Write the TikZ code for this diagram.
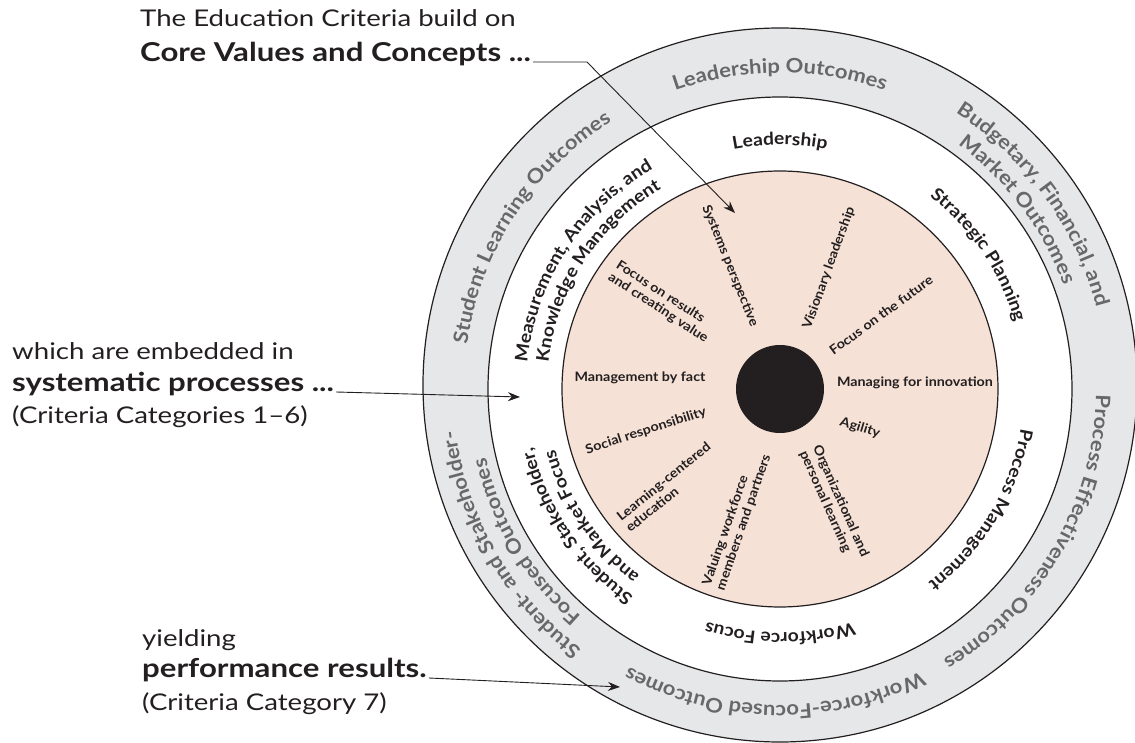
\documentclass[tikz,border=0pt]{standalone}
\usepackage{fontspec}
\setmainfont[FakeStretch=1.1]{Lato}
\newfontfamily\sidefont[FakeStretch=1.2]{Lato}
\usetikzlibrary{decorations.text,arrows.meta}
\definecolor{bandgray}{HTML}{E6E7E8}
\definecolor{corepink}{HTML}{F6E1D6}
\definecolor{labelgray}{HTML}{676869}
\definecolor{ink}{HTML}{231F20}
\newcommand\outerfmt{\fontsize{20}{20}\selectfont\bfseries\color{labelgray}}
\newcommand\midfmt{\fontsize{17.5}{17.5}\selectfont\bfseries\color{ink}}
\newcommand\arclabel[3]{%
  \pgfmathsetmacro\rsA{#1+80}\pgfmathsetmacro\rsB{#1-80}%
  \path[decorate, decoration={text along path, text align=center, text={#3}}]
    (\rsA:#2) arc[start angle=\rsA, end angle=\rsB, radius=#2];}
\begin{document}
\begin{tikzpicture}[x=1pt,y=1pt,
  ringline/.style={draw=ink, line width=1.2pt},
  corelabel/.style={font=\fontsize{13}{14.5}\selectfont\bfseries, text=ink, align=left, inner sep=0pt},
  sidetext/.style={font=\sidefont\fontsize{23}{26}\selectfont, text=ink, anchor=base west, inner sep=0pt},
  sidebold/.style={font=\sidefont\fontsize{26}{28}\selectfont\bfseries, text=ink, anchor=base west, inner sep=0pt},
  pointer/.style={draw=ink, line width=0.9pt, -{Stealth[length=12pt,width=9pt]}},
]
\useasboundingbox (-780,-354) rectangle (355,389);
\clip (-780,-354) rectangle (355,389);
% rings
\fill[bandgray] (0,4) circle[radius=357];
\draw[ringline] (0,4) circle[radius=357];
\filldraw[fill=white, ringline] (0,0) circle[radius=292];
\filldraw[fill=corepink, ringline] (0,0) circle[radius=218];
\node[circle, fill=ink, minimum size=88pt, inner sep=0pt] (hub) at (0,0) {};
% outer results band
\arclabel{90}{316}{|\outerfmt|Leadership Outcomes}
\arclabel{36}{327}{|\outerfmt|Budgetary, Financial, and}
\arclabel{37}{302}{|\outerfmt|Market Outcomes}
\arclabel{-30}{316}{|\outerfmt|Process Effectiveness Outcomes}
\arclabel{-91}{316}{|\outerfmt|Workforce-Focused Outcomes}
\arclabel{210}{327}{|\outerfmt|Student- and Stakeholder-}
\arclabel{211}{302}{|\outerfmt|Focused Outcomes}
\arclabel{147}{316}{|\outerfmt|Student Learning Outcomes}
% process ring
\arclabel{90}{244}{|\midfmt|Leadership}
\arclabel{34}{244}{|\midfmt|Strategic Planning}
\arclabel{-31}{244}{|\midfmt|Process Management}
\arclabel{-90}{244}{|\midfmt|Workforce Focus}
\arclabel{214}{254}{|\midfmt|Student, Stakeholder,}
\arclabel{214}{233}{|\midfmt|and Market Focus}
\arclabel{147}{254}{|\midfmt|Measurement, Analysis, and}
\arclabel{147}{233}{|\midfmt|Knowledge Management}
% core values
\node[corelabel, rotate=-68] (cv1) at (-50,123) {Systems perspective};
\node[corelabel, rotate=70] (cv2) at (49,121) {Visionary leadership};
\node[corelabel, rotate=36] (cv3) at (101,74) {Focus on the future};
\node[corelabel] (cv4) at (135,6) {Managing for innovation};
\node[corelabel, rotate=-17] (cv5) at (80,-39) {Agility};
\node[corelabel, rotate=-66] (cv6) at (54,-115) {Organizational and\\personal learning};
\node[corelabel, rotate=71] (cv7) at (-43,-131) {Valuing workforce\\members and partners};
\node[corelabel, rotate=39] (cv8) at (-112,-98) {Learning-centered\\education};
\node[corelabel, rotate=18] (cv9) at (-134,-42) {Social responsibility};
\node[corelabel] (cv10) at (-140,11) {Management by fact};
\node[corelabel, rotate=-33] (cv11) at (-118,87) {Focus on results\\and creating value};
% side texts
\node[sidetext] (t1) at (-640,362) {The Education Criteria build on};
\node[sidebold] (core) at (-640,327) {Core Values and Concepts ...};
\node[sidetext] (t2) at (-768,29) {which are embedded in};
\node[sidebold] (sys) at (-768,-3) {systematic processes ...};
\node[sidetext] (t3) at (-768,-35) {(Criteria Categories 1–6)};
\node[sidetext] (t4) at (-638,-258) {yielding};
\node[sidebold] (perf) at (-638,-289) {performance results.};
\node[sidetext] (t5) at (-638,-321) {(Criteria Category 7)};
% pointers
\coordinate (bendA) at (-193,324);
\coordinate (tipA) at (-45,176);
\coordinate (tipB) at (-260,-8);
\coordinate (tipC) at (-160,-298);
\draw[pointer] ([xshift=2pt]core.base east) -- (bendA |- core.base east) -- (tipA);
\draw[pointer] ([xshift=2pt]sys.base east) -- (tipB);
\draw[pointer] ([xshift=2pt]perf.base east) -- (tipC);
\end{tikzpicture}
\end{document}
